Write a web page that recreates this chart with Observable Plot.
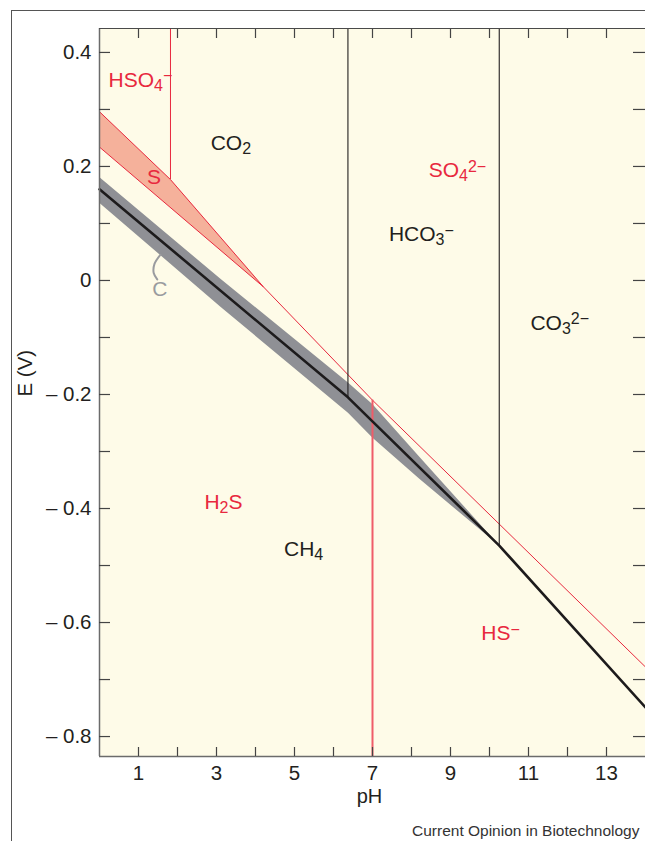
<!DOCTYPE html>
<html>
<head>
<meta charset="utf-8">
<script src="https://cdn.jsdelivr.net/npm/d3@7"></script>
<script src="https://cdn.jsdelivr.net/npm/@observablehq/plot@0.6"></script>
<style>
  body { margin: 0; background: #fff; }
  #wrap { position: relative; width: 645px; height: 841px; overflow: hidden; background: #fff;
          font-family: "Liberation Sans", Arial, Helvetica, sans-serif; }
  #frame { position: absolute; left: 11px; top: 10px; width: 700px; height: 900px;
           border-top: 1px solid #555; border-left: 1px solid #555; }
  #chart { position: absolute; left: 0; top: 0; }
  #caption { position: absolute; left: 412px; top: 823px; font-size: 15.5px; line-height: 1;
             white-space: nowrap; color: #333; }
</style>
</head>
<body>
<div id="wrap">
  <div id="frame"></div>
  <div id="chart"></div>
  <div id="caption">Current Opinion in Biotechnology</div>
</div>
<script>
// ---------- data ----------
const phDomain = [0, 14];
const eDomain = [-0.835, 0.442];

const xTicks = [1, 2, 3, 4, 5, 6, 7, 8, 9, 10, 11, 12, 13];
const xLabels = [1, 3, 5, 7, 9, 11, 13];
const yTicks = [-0.8, -0.7, -0.6, -0.5, -0.4, -0.3, -0.2, -0.1, 0, 0.1, 0.2, 0.3, 0.4];
const yLabels = [-0.8, -0.6, -0.4, -0.2, 0, 0.2, 0.4];

// carbon boundary (CO2 / HCO3- / CO3 2-  vs  CH4)
const carbonPH = [0, 6.37, 10.25, 14];
const carbonE = [0.16, -0.205, -0.465, -0.749];
// carbon band
const bandPH = [0, 3.1, 6.37, 7, 8.2, 10.25];
const bandHigh = [0.181, 0.003, -0.179, -0.217, -0.309, -0.465];
const bandLow = [0.136, -0.046, -0.232, -0.276, -0.348, -0.465];
// carbon speciation boundaries (vertical)
const carbonPK = [6.37, 10.25];
const carbonPKEnd = [-0.205, -0.465];

// sulfur: elemental S wedge
const sUpperPH = [0, 1.82, 4.2];
const sUpperE = [0.296, 0.177, -0.011];
const sLowerPH = [0, 4.2];
const sLowerE = [0.234, -0.011];
// sulfate / sulfide boundary
const sulfidePH = [0, 4.2, 7, 14];
const sulfideE = [0.234, -0.011, -0.21, -0.678];
// HSO4-/SO4 2- and H2S/HS- boundaries (vertical)
const hso4PK = [1.82];
const hso4PKEnd = [0.177];
const h2sPK = [7];
const h2sPKEnd = [-0.21];

// region labels
const labelText = ["HSO_4^−", "CO_2", "S", "SO_4^2−", "HCO_3^−", "CO_3^2−", "H_2S", "CH_4", "HS^−", "C"];
const labelPH = [0.23, 2.85, 1.22, 8.44, 7.42, 11.05, 2.69, 4.73, 9.79, 1.35];
const labelE = [0.352, 0.240, 0.181, 0.193, 0.081, -0.075, -0.389, -0.472, -0.619, -0.016];
const labelColor = ["#e8283e", "#231f20", "#e8283e", "#e8283e", "#231f20", "#231f20", "#e8283e", "#231f20", "#e8283e", "#9a9b9f"];

// bracket linking "C" to the band
const bracketPH = [1.56, 1.41, 1.39, 1.48];
const bracketE = [0.045, 0.029, 0.013, 0.002];

// ---------- derived tables ----------
const pts = (xs, ys) => xs.map((x, i) => ({x, y: ys[i]}));
const wedge = [...pts(sUpperPH, sUpperE), ...pts(sLowerPH, sLowerE).reverse()];
const band = [...pts(bandPH, bandHigh), ...pts(bandPH, bandLow).reverse()];
const labels = labelText.map((t, i) => ({t, x: labelPH[i], y: labelE[i], c: labelColor[i]}));

const RED = "#e8283e";
const fmtY = d => d === 0 ? "0" : d < 0 ? "– " + Math.abs(d).toFixed(1) : d.toFixed(1);

const chart = Plot.plot({
  width: 645,
  height: 815,
  marginLeft: 99,
  marginRight: 0,
  marginTop: 28,
  marginBottom: 59,
  style: {fontFamily: '"Liberation Sans", Arial, Helvetica, sans-serif', fontSize: "20px", color: "#231f20", background: "transparent", overflow: "visible"},
  x: {domain: phDomain},
  y: {domain: eDomain},
  marks: [
    Plot.frame({fill: "#fefbe8", stroke: null}),
    // S wedge
    Plot.line(wedge, {x: "x", y: "y", fill: "#f5b19b", stroke: "none"}),
    // carbon band
    Plot.line(band, {x: "x", y: "y", fill: "#8f9095", stroke: "none"}),
    // red boundaries
    Plot.line(pts(sUpperPH, sUpperE), {x: "x", y: "y", stroke: RED, strokeWidth: 1}),
    Plot.line(pts(sulfidePH, sulfideE), {x: "x", y: "y", stroke: RED, strokeWidth: 1}),
    Plot.ruleX(hso4PK, {x: d => d, y1: eDomain[1], y2: (d, i) => hso4PKEnd[i], stroke: RED, strokeWidth: 1}),
    Plot.ruleX(h2sPK, {x: d => d, y1: (d, i) => h2sPKEnd[i], y2: eDomain[0], stroke: "#ef5c69", strokeWidth: 2}),
    // black boundaries
    Plot.ruleX(carbonPK, {x: d => d, y1: eDomain[1], y2: (d, i) => carbonPKEnd[i], stroke: "#231f20", strokeWidth: 1.1}),
    Plot.line(pts(carbonPH, carbonE), {x: "x", y: "y", stroke: "#1d1b1c", strokeWidth: 2.6}),
    // bracket for C
    Plot.line(pts(bracketPH, bracketE), {x: "x", y: "y", stroke: "#9a9b9f", strokeWidth: 2, curve: "catmull-rom"}),
    // labels
    Plot.text(labels, {x: "x", y: "y", text: "t", fill: "c", textAnchor: "start", fontSize: 21}),
    // axis frame lines
    Plot.ruleX([phDomain[0]], {stroke: "#6b6b6b", strokeWidth: 1.5}),
    Plot.ruleY([eDomain[0]], {stroke: "#6b6b6b", strokeWidth: 1.5}),
    Plot.ruleY([eDomain[1]], {stroke: "#4a4a4a", strokeWidth: 1.2}),
    // inward ticks
    Plot.axisX({anchor: "bottom", ticks: xTicks, tickSize: 9, dy: -9, fill: "none", stroke: "#444", strokeWidth: 1.2}),
    Plot.axisX({anchor: "top", ticks: xTicks, tickSize: 9, dy: 9, fill: "none", stroke: "#444", strokeWidth: 1.2}),
    Plot.axisY({anchor: "left", ticks: yTicks, tickSize: 11, dx: 11, fill: "none", stroke: "#444", strokeWidth: 1.2}),
    Plot.axisY({anchor: "right", ticks: yTicks, tickSize: 13, dx: -13, fill: "none", stroke: "#444", strokeWidth: 1.2}),
    // tick labels
    Plot.axisX({anchor: "bottom", ticks: xLabels, tickSize: 0, tickPadding: 9, label: null, fontSize: 20.5, tickFormat: d => String(d)}),
    Plot.axisY({anchor: "left", ticks: yLabels, tickSize: 0, tickPadding: 8, label: null, fontSize: 20.5, tickFormat: fmtY}),
    // axis titles
    Plot.text(["pH"], {frameAnchor: "bottom", dy: 46, dx: -3, fontSize: 20}),
    Plot.text(["E (V)"], {frameAnchor: "left", dx: -74, dy: 4, rotate: -90, fontSize: 20.5})
  ]
});

// sub/superscripts for chemical formulas
const NS = "http://www.w3.org/2000/svg";
function richify(el) {
  const s = el.textContent;
  if (!/[_^]/.test(s)) return;
  el.textContent = "";
  let shift = 0;
  const add = (txt, target, size) => {
    const t = document.createElementNS(NS, "tspan");
    const dy = target - shift;
    if (dy) t.setAttribute("dy", dy);
    if (size) t.setAttribute("font-size", size);
    t.textContent = txt;
    el.appendChild(t);
    shift = target;
  };
  let i = 0;
  while (i < s.length) {
    if (s[i] === "_") { add(s[i + 1], 4, 16); i += 2; }
    else if (s[i] === "^") { add(s.slice(i + 1), -5.5, 16); i = s.length; }
    else {
      let j = i;
      while (j < s.length && s[j] !== "_" && s[j] !== "^") j++;
      add(s.slice(i, j), 0);
      i = j;
    }
  }
}
chart.querySelectorAll("text").forEach(richify);

document.getElementById("chart").appendChild(chart);
</script>
</body>
</html>
